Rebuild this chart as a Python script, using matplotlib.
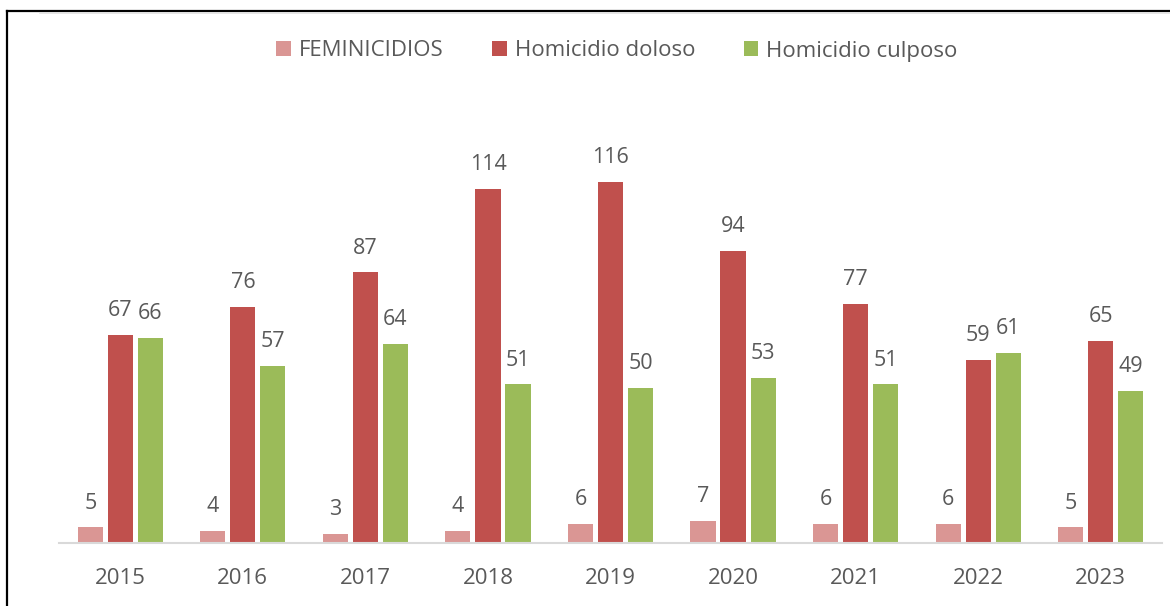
import numpy as np
import matplotlib.pyplot as plt
from matplotlib.lines import Line2D

years = ["2015", "2016", "2017", "2018", "2019", "2020", "2021", "2022", "2023"]
feminicidios = [5, 4, 3, 4, 6, 7, 6, 6, 5]
hom_doloso = [67, 76, 87, 114, 116, 94, 77, 59, 65]
hom_culposo = [66, 57, 64, 51, 50, 53, 51, 61, 49]

series_names = ["FEMINICIDIOS", "Homicidio doloso", "Homicidio culposo"]
colors = ["#DA9694", "#C0504D", "#9BBB59"]
txt = "#595959"

plt.rcParams['font.family'] = ['Open Sans', 'DejaVu Sans']

fig = plt.figure(figsize=(11.7, 6.06), dpi=100)
ax = fig.add_axes([59/1170, 63/606, 1103/1170, 440/606])

x = np.arange(len(years))
w = 0.205
step = 0.245
for i, (vals, name, c) in enumerate(zip([feminicidios, hom_doloso, hom_culposo], series_names, colors)):
    bars = ax.bar(x + (i - 1)*step, vals, w, color=c, label=name)
    for b, v in zip(bars, vals):
        ax.annotate(str(v), (b.get_x() + b.get_width()/2, v), xytext=(0, 10),
                    textcoords="offset points", ha="center", va="bottom",
                    fontsize=15.5, color=txt)

ax.set_xlim(-0.5, len(years) - 0.5)
ax.set_ylim(0, 141.5)
ax.set_xticks(x)
ax.set_xticklabels(years, fontsize=16, color=txt)
ax.tick_params(axis="x", length=0, pad=18)
ax.set_yticks([])
for s in ["top", "right", "left"]:
    ax.spines[s].set_visible(False)
ax.spines["bottom"].set_color("#D9D9D9")
ax.spines["bottom"].set_linewidth(1.5)

leg = fig.legend(loc="center", bbox_to_anchor=(617/1170, 1 - 51/606), ncol=3, frameon=False,
                 fontsize=16, handlelength=0.65, handleheight=0.65, columnspacing=2.2,
                 handletextpad=0.35)
for t in leg.get_texts():
    t.set_color(txt)

# frame lines (top and left)
fig.add_artist(Line2D([7/1170, 1], [1 - 11/606, 1 - 11/606], color="black", lw=1.6,
                      transform=fig.transFigure))
fig.add_artist(Line2D([40/1170, 1], [1 - 13/606, 1 - 13/606], color="#E0E0E0", lw=1.2,
                      transform=fig.transFigure))
fig.add_artist(Line2D([7/1170, 7/1170], [0, 1 - 11/606], color="black", lw=1.6,
                      transform=fig.transFigure))

fig.savefig("out.png", dpi=100)
